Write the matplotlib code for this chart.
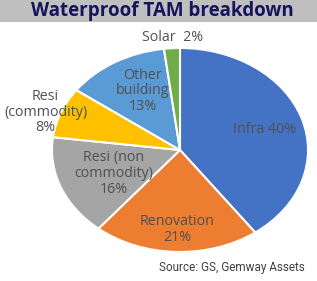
import matplotlib
matplotlib.use("Agg")
import matplotlib.pyplot as plt
from matplotlib.patches import Rectangle

segments = ["Infra", "Renovation", "Resi (non commodity)", "Resi (commodity)",
            "Other building", "Solar"]
shares = [40, 21, 16, 8, 13, 2]
labels = ["Infra 40%", "Renovation\n21%", "Resi (non\ncommodity)\n16%",
          "Resi\n(commodity)\n8%", "Other\nbuilding\n13%", "Solar  2%"]
colors = ["#4472C4", "#ED7D31", "#A5A5A5", "#FFC000", "#5B9BD5", "#70AD47"]
# label positions in pie units (x, y)
label_pos = [(0.66, 0.20), (-0.02, -0.78), (-0.52, -0.23), (-1.05, 0.37),
             (-0.29, 0.58), (-0.06, 1.10)]

fig = plt.figure(figsize=(3.17, 2.81), dpi=100)

# title bar
fig.patches.append(Rectangle((0, 1 - 22 / 281), 1, 22 / 281, transform=fig.transFigure,
                             facecolor="#BFBFBF", edgecolor="none", zorder=0))
fig.text(162 / 317, 1 - 11 / 281, "Waterproof TAM breakdown", ha="center", va="center",
         fontsize=13.5, fontweight="bold", color="#14145C", family="Open Sans")

ax = fig.add_axes([52 / 317, 29 / 281, 256 / 317, 204 / 281])
ax.pie(shares, colors=colors, startangle=90, counterclock=False,
       wedgeprops=dict(edgecolor="white", linewidth=1.5))
ax.set_aspect("auto")
ax.set_xlim(-1, 1)
ax.set_ylim(-1, 1)

for lab, (x, y) in zip(labels, label_pos):
    ax.text(x, y, lab, ha="center", va="center", fontsize=10.3, color="#505050",
            family="Open Sans", linespacing=1.05, clip_on=False)

fig.text(305 / 317, 1 - 268 / 281, "Source: GS, Gemway Assets", ha="right", va="center",
         fontsize=8.5, color="#404040", family="Roboto")

fig.savefig("out.png", dpi=100)
